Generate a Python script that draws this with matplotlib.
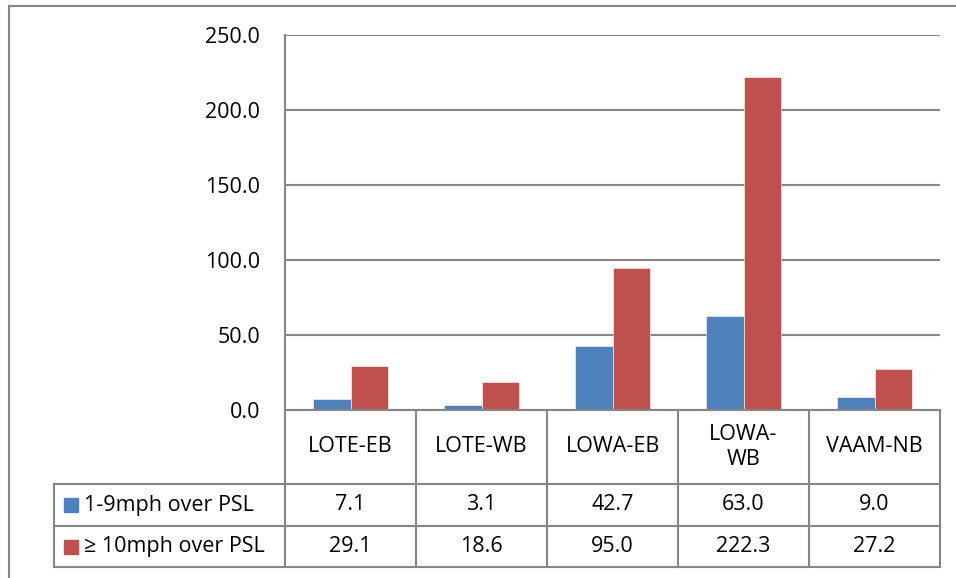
#!/usr/bin/env python3
"""Speeding counts per site: column chart with Excel-style data table."""

import matplotlib
matplotlib.use("Agg")
import matplotlib.pyplot as plt
from matplotlib.lines import Line2D
import numpy as np

# ---------------------------------------------------------------------------
CATEGORIES = ["LOTE-EB", "LOTE-WB", "LOWA-EB", "LOWA-WB", "VAAM-NB"]
SERIES_NAMES = ["1-9mph over PSL", "\u2265 10mph over PSL"]
LOW_SPEED = [7.1, 3.1, 42.7, 63.0, 9.0]
HIGH_SPEED = [29.1, 18.6, 95.0, 222.3, 27.2]
Y_TICKS = [0, 50, 100, 150, 200, 250]

COLORS = ["#4F81BD", "#C0504D"]
GRID = "#868686"
FONT = "Open Sans"
FS = 15.5

W, H = 956, 578
plt.rcParams["font.family"] = [FONT, "DejaVu Sans"]

# pixel layout
PLOT_L, PLOT_R, PLOT_T, PLOT_B = 285, 940, 35, 410
TAB_L, TAB_B = 54, 567
ROW_EDGES = [0, 74, 116, 157]          # table rows, px below the zero line


def wrap_label(s):
    # Excel broke the one long name onto two lines
    return s.replace("A-W", "A-\nW") if s == "LOWA-WB" else s


# ---------------------------------------------------------------------------
fig = plt.figure(figsize=(W / 100, H / 100), dpi=100)

ax = fig.add_axes([PLOT_L / W, 1 - PLOT_B / H,
                   (PLOT_R - PLOT_L) / W, (PLOT_B - PLOT_T) / H])
x = np.arange(len(CATEGORIES))
bw = 0.285
for k, vals in enumerate([LOW_SPEED, HIGH_SPEED]):
    ax.bar(x + (k - 0.5) * bw, vals, width=bw, color=COLORS[k],
           edgecolor="white", linewidth=0.4, zorder=3)

ax.set_xlim(-0.5, len(CATEGORIES) - 0.5)
ax.set_ylim(0, 250)
ax.set_yticks(Y_TICKS)
ax.set_yticklabels([f"{v:.1f}" for v in Y_TICKS], fontsize=FS)
ax.set_xticks([])
ax.tick_params(axis="y", length=0, pad=18)
ax.yaxis.grid(True, color=GRID, linewidth=1.5)
ax.set_axisbelow(True)
for side in ["top", "right"]:
    ax.spines[side].set_visible(False)
for side in ["left", "bottom"]:
    ax.spines[side].set_color(GRID)
    ax.spines[side].set_linewidth(1.5)
    ax.spines[side].set_zorder(4)

# ---------------------------------------------------------------------------
# data table underneath, columns aligned with the category slots
col_px = (PLOT_R - PLOT_L) / len(CATEGORIES)
x_left = -0.5 - (PLOT_L - TAB_L) / col_px
tab = fig.add_axes([TAB_L / W, 1 - TAB_B / H,
                    (PLOT_R - TAB_L) / W, (TAB_B - PLOT_B) / H])
tab.set_xlim(x_left, len(CATEGORIES) - 0.5)
tab.set_ylim(ROW_EDGES[-1], 0)
tab.axis("off")

lk = dict(color=GRID, linewidth=1.5, clip_on=False, solid_capstyle="projecting")
for i in range(len(CATEGORIES) + 1):
    tab.plot([i - 0.5, i - 0.5], [0, ROW_EDGES[-1]], **lk)
tab.plot([x_left, x_left], [ROW_EDGES[1], ROW_EDGES[-1]], **lk)
for yy in ROW_EDGES[1:]:
    tab.plot([x_left, len(CATEGORIES) - 0.5], [yy, yy], **lk)

mid0 = (ROW_EDGES[0] + ROW_EDGES[1]) / 2
for i, c in enumerate(CATEGORIES):
    tab.text(i, mid0, wrap_label(c), ha="center", va="center",
             fontsize=FS, linespacing=1.25)

key_x = x_left + 17 / col_px
txt_x = x_left + 30 / col_px
for r, (name, vals) in enumerate(zip(SERIES_NAMES, [LOW_SPEED, HIGH_SPEED])):
    ym = (ROW_EDGES[r + 1] + ROW_EDGES[r + 2]) / 2
    tab.plot([key_x], [ym], marker="s", markersize=10, color=COLORS[r],
             linestyle="none", clip_on=False)
    tab.text(txt_x, ym, name, ha="left", va="center", fontsize=FS)
    for i, v in enumerate(vals):
        tab.text(i, ym, f"{v:.1f}", ha="center", va="center", fontsize=FS)

# chart-area frame (only top and left edges are visible in the crop)
fig.add_artist(Line2D([8.5 / W, 1.0], [1 - 5.5 / H, 1 - 5.5 / H],
                      color=GRID, linewidth=1.5))
fig.add_artist(Line2D([8.5 / W, 8.5 / W], [0, 1 - 5.5 / H],
                      color=GRID, linewidth=1.5))

fig.savefig("out.png", dpi=100)
